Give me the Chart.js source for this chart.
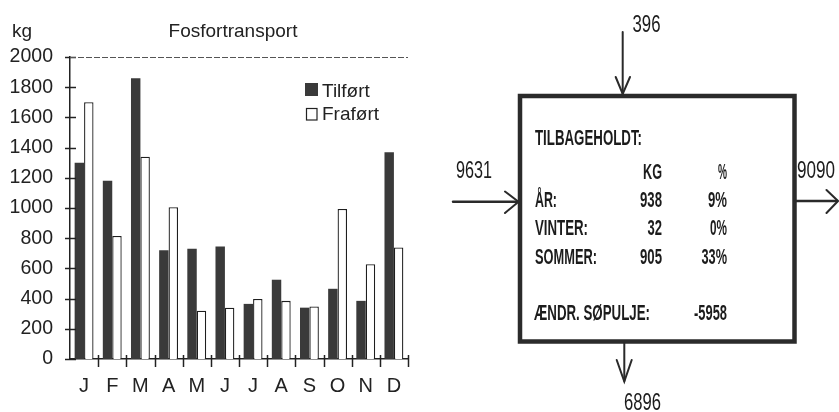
<!DOCTYPE html>
<html>
<head>
<meta charset="utf-8">
<script src="https://cdn.jsdelivr.net/npm/chart.js@4/dist/chart.umd.min.js"></script>
<style>
  html, body { margin: 0; padding: 0; background: #ffffff; }
  #wrap { position: relative; width: 839px; height: 412px; overflow: hidden; background: #ffffff; }
  #chart { position: absolute; left: 0; top: 0; }
  #diagram { position: absolute; left: 0; top: 0; pointer-events: none; }
</style>
</head>
<body>
<div id="wrap">
  <canvas id="chart" width="420" height="412"></canvas>
  <svg id="diagram" width="839" height="412" xmlns="http://www.w3.org/2000/svg"></svg>
</div>
<script>
// ---- chart data ----
const months = ['J', 'F', 'M', 'A', 'M', 'J', 'J', 'A', 'S', 'O', 'N', 'D'];
const tilfort = [1300, 1180, 1860, 720, 730, 745, 365, 525, 340, 465, 385, 1370];
const frafort = [1700, 815, 1340, 1005, 320, 340, 398, 385, 348, 993, 628, 738];
const seriesNames = ['Tilført', 'Fraført'];
const yMin = 0;
const yMax = 2000;
const yStep = 200;
const chartTitle = 'Fosfortransport';
const yUnit = 'kg';

// ---- diagram data ----
const flowTop = ['396'];
const flowIn = ['9631'];
const flowOut = ['9090'];
const flowBottom = ['6896'];
const retainedHeader = ['TILBAGEHOLDT:'];
const columnHeads = ['KG', '%'];
const rowLabels = ['ÅR:', 'VINTER:', 'SOMMER:'];
const rowKg = ['938', '32', '905'];
const rowPct = ['9%', '0%', '33%'];
const poolRow = ['ÆNDR. SØPULJE:', '-5958'];

const INK = '#222222';
const FONT = '"Liberation Sans", Arial, Helvetica, sans-serif';

const decor = {
  id: 'decor',
  afterDraw(chart) {
    const { ctx, chartArea: a, scales: { x, y } } = chart;
    ctx.save();
    // y ticks crossing the axis
    ctx.strokeStyle = INK;
    ctx.lineWidth = 1.5;
    y.ticks.forEach(t => {
      const py = Math.round(y.getPixelForValue(t.value)) + 0.5;
      ctx.beginPath(); ctx.moveTo(a.left - 5, py); ctx.lineTo(a.left + 6, py); ctx.stroke();
    });
    // x ticks at category boundaries, crossing the axis
    const n = x.ticks.length;
    const w = (a.right - a.left) / n;
    const x0 = x.getPixelForValue(0) - w / 2;
    for (let i = 1; i <= n; i++) {
      const px = Math.round(x0 + i * w) + 0.5;
      ctx.beginPath(); ctx.moveTo(px, a.bottom - 4); ctx.lineTo(px, a.bottom + 8); ctx.stroke();
    }
    // dashed top line at max
    const ty = Math.round(y.getPixelForValue(yMax)) + 0.5;
    ctx.setLineDash([6, 2]);
    ctx.strokeStyle = '#555555';
    ctx.lineWidth = 1;
    ctx.beginPath(); ctx.moveTo(a.left, ty); ctx.lineTo(a.right, ty); ctx.stroke();
    ctx.setLineDash([]);
    // title + unit
    ctx.fillStyle = INK;
    ctx.font = '19px ' + FONT;
    ctx.textBaseline = 'alphabetic';
    ctx.textAlign = 'left';
    ctx.fillText(yUnit, 12, 37);
    ctx.textAlign = 'center';
    ctx.fillText(chartTitle, 233, 37);
    // legend
    const ds = chart.data.datasets;
    ctx.textAlign = 'left';
    ctx.font = '19px ' + FONT;
    ctx.fillStyle = ds[0].backgroundColor;
    ctx.fillRect(305, 83, 13, 13);
    ctx.fillStyle = INK;
    ctx.fillText(ds[0].label, 322, 97);
    ctx.fillStyle = '#ffffff';
    ctx.fillRect(306, 108, 11, 12);
    ctx.strokeStyle = INK;
    ctx.lineWidth = 1.2;
    ctx.strokeRect(306.5, 108.5, 10.5, 11.5);
    ctx.fillStyle = INK;
    ctx.fillText(ds[1].label, 322, 120);
    ctx.restore();
  }
};

new Chart(document.getElementById('chart'), {
  type: 'bar',
  data: {
    labels: months,
    datasets: [
      {
        label: seriesNames[0],
        data: tilfort,
        backgroundColor: '#3a3a3a',
        borderWidth: 0,
        categoryPercentage: 0.67,
        barPercentage: 1.0
      },
      {
        label: seriesNames[1],
        data: frafort,
        backgroundColor: '#ffffff',
        borderColor: '#1e1e1e',
        borderWidth: 1.3,
        borderSkipped: 'bottom',
        categoryPercentage: 0.67,
        barPercentage: 1.0
      }
    ]
  },
  options: {
    responsive: false,
    animation: false,
    devicePixelRatio: 1,
    layout: { padding: { left: 0, right: 12, top: 57, bottom: 0 } },
    plugins: {
      legend: { display: false },
      title: { display: false },
      tooltip: { enabled: false }
    },
    scales: {
      x: {
        type: 'category',
        offset: true,
        grid: { display: false, drawTicks: false, offset: true },
        border: { display: true, color: INK, width: 1.5 },
        ticks: { color: INK, font: { family: FONT, size: 20 }, padding: 15, maxRotation: 0, autoSkip: false },
        afterFit(scale) { scale.height = 53; }
      },
      y: {
        min: yMin,
        max: yMax,
        grid: { display: false, drawTicks: false },
        border: { display: true, color: INK, width: 1.5 },
        ticks: {
          stepSize: yStep,
          color: INK,
          font: { family: FONT, size: 19.5 },
          padding: 17,
          callback: v => String(v)
        },
        afterFit(scale) { scale.width = 70; }
      }
    }
  },
  plugins: [decor]
});

// ---- diagram (box with flows) ----
const svg = document.getElementById('diagram');
const NS = 'http://www.w3.org/2000/svg';
function el(name, attrs) {
  const e = document.createElementNS(NS, name);
  for (const k in attrs) e.setAttribute(k, attrs[k]);
  svg.appendChild(e);
  return e;
}
function line(x1, y1, x2, y2, w) {
  el('line', { x1, y1, x2, y2, stroke: '#2a2a2a', 'stroke-width': w, 'stroke-linecap': 'round' });
}
function poly(pts, w) {
  el('polyline', { points: pts, fill: 'none', stroke: '#2a2a2a', 'stroke-width': w, 'stroke-linejoin': 'miter', 'stroke-linecap': 'round' });
}
function txt(s, x, y, width, size, endAligned, bold) {
  const t = el('text', {
    x: endAligned ? x - width : x, y,
    'font-family': FONT, 'font-size': size, fill: '#1c1c1c',
    'font-weight': bold ? 'bold' : 'normal',
    textLength: width, lengthAdjust: 'spacingAndGlyphs'
  });
  t.textContent = s;
  return t;
}

// box
el('rect', { x: 520, y: 96, width: 274.5, height: 245.5, fill: 'none', stroke: '#2b2b2b', 'stroke-width': 4.5 });

// top arrow
line(622.7, 32, 622.7, 94, 2);
poly('615.7,77 622.7,94 630,77', 2);
txt(flowTop[0], 632.5, 32, 28, 23, false, false);

// left arrow
line(453, 201.7, 517, 201.7, 2.4);
poly('505,191.5 518.5,201.7 505,213', 2);
txt(flowIn[0], 456, 178, 36, 24, false, false);

// right arrow
line(796, 201, 837, 201, 2.4);
poly('826.5,190 838,201 826.5,213', 2);
txt(flowOut[0], 797, 178, 38, 24, false, false);

// bottom arrow
line(624.3, 343, 624.3, 381, 2);
poly('616.7,360 624.3,381.5 631.7,360', 2);
txt(flowBottom[0], 624, 410, 37, 23, false, false);

// box contents
txt(retainedHeader[0], 535, 145, 107, 22, false, true);
txt(columnHeads[0], 662, 179, 19, 22, true, true);
txt(columnHeads[1], 727, 179, 9, 22, true, true);
const rowBaselines = [207, 235, 263.5];
const labelWidths = [22, 53, 62];
const kgWidths = [22, 14.5, 22];
const pctWidths = [19, 17, 25.5];
rowLabels.forEach((lab, i) => {
  txt(lab, 535, rowBaselines[i], labelWidths[i], 22, false, true);
  txt(rowKg[i], 662, rowBaselines[i], kgWidths[i], 22, true, true);
  txt(rowPct[i], 727, rowBaselines[i], pctWidths[i], 22, true, true);
});
txt(poolRow[0], 534, 320, 116, 22, false, true);
txt(poolRow[1], 727, 320, 33, 22, true, true);
</script>
</body>
</html>
